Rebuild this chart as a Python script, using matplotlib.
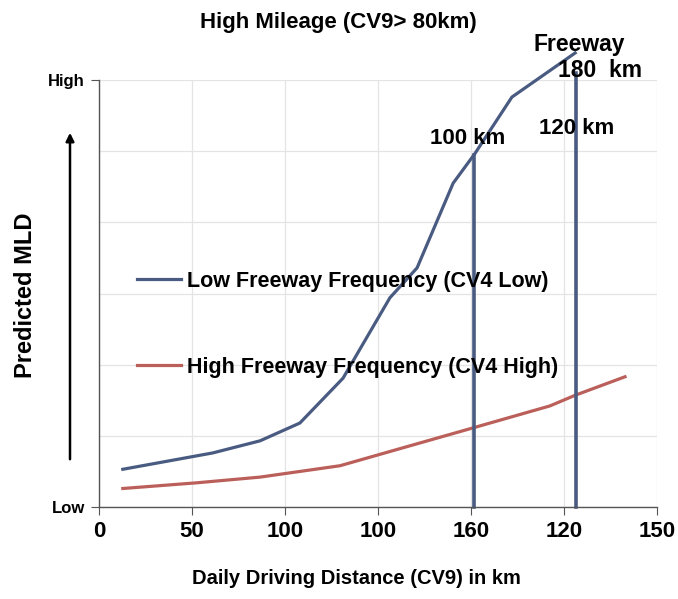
import matplotlib
matplotlib.use('Agg')
import matplotlib.pyplot as plt

plt.rcParams['font.family'] = ['Liberation Sans', 'DejaVu Sans']

# Data (x in axis units 0-150, y in 0-6 "Low".."High")
low_x = [6.4, 30.6, 43.3, 54.0, 65.6, 78.2, 85.5, 95.2, 101.1, 111.0, 128.0]
low_y = [0.53, 0.76, 0.93, 1.18, 1.81, 2.94, 3.36, 4.55, 4.97, 5.76, 6.38]
high_x = [6.4, 26.3, 43.3, 64.8, 80.9, 101.1, 121.2, 128.0, 141.4]
high_y = [0.26, 0.34, 0.42, 0.58, 0.82, 1.12, 1.42, 1.57, 1.83]
vline_x = [100.9, 128.1]
vline_top = [4.95, 6.10]
tick_pos = [0, 25, 50, 75, 100, 125, 150]
tick_labels = ['0', '50', '100', '100', '160', '120', '150']

blue = '#4a5b82'
red = '#bb5f5a'

fig = plt.figure(figsize=(6.78, 5.99), dpi=100)
ax = fig.add_axes([99 / 678, 1 - 507 / 599, 558 / 678, 427 / 599])

ax.plot(low_x, low_y, color=blue, lw=2.3, clip_on=False,
        label='Low Freeway Frequency (CV4 Low)')
ax.plot(high_x, high_y, color=red, lw=2.3, clip_on=False,
        label='High Freeway Frequency (CV4 High)')
for vx, vt in zip(vline_x, vline_top):
    ax.plot([vx, vx], [0, vt], color=blue, lw=2.6, clip_on=False)

ax.set_xlim(0, 150)
ax.set_ylim(0, 6)
ax.set_xticks(tick_pos)
ax.set_xticklabels(tick_labels, fontsize=16, fontweight='bold')
ax.set_yticks([0, 6])
ax.set_yticklabels(['Low', 'High'], fontsize=12, fontweight='bold')
ax.set_yticks([1, 2, 3, 4, 5], minor=True)
ax.tick_params(axis='y', which='minor', length=0)
ax.grid(True, which='both', color='#e4e4e4', lw=0.9)
ax.set_axisbelow(True)
ax.tick_params(axis='both', which='major', length=6, color='#555555', pad=4)
for s in ['top', 'right']:
    ax.spines[s].set_visible(False)
for s in ['left', 'bottom']:
    ax.spines[s].set_color('#555555')
    ax.spines[s].set_linewidth(1.0)

ax.legend(loc='upper left', bbox_to_anchor=(137 / 678, 1 - 271 / 599),
          bbox_transform=fig.transFigure, frameon=False, borderpad=0,
          borderaxespad=0, labelspacing=3.0, handlelength=2.05,
          handletextpad=0.28, prop={'size': 15.5, 'weight': 'bold'})

fig.text(0.4985, 0.963, 'High Mileage (CV9> 80km)', ha='center', va='center',
         fontsize=16, fontweight='bold')
fig.text(0.855, 0.925, 'Freeway', ha='center', va='center', fontsize=16.5,
         fontweight='bold')
fig.text(0.885, 0.883, '180  km', ha='center', va='center', fontsize=16.5,
         fontweight='bold')
fig.text(0.851, 0.786, '120 km', ha='center', va='center', fontsize=16,
         fontweight='bold')
fig.text(0.690, 0.768, '100 km', ha='center', va='center', fontsize=16,
         fontweight='bold')
fig.text(0.037, 0.507, 'Predicted MLD', rotation=90, ha='center', va='center',
         fontsize=17, fontweight='bold')
fig.text(0.525, 0.035, 'Daily Driving Distance (CV9) in km', ha='center',
         va='center', fontsize=14.5, fontweight='bold')

fig.add_artist(matplotlib.patches.FancyArrowPatch(
    (70 / 678, 1 - 462 / 599), (70 / 678, 1 - 130 / 599),
    transform=fig.transFigure, arrowstyle='-|>', mutation_scale=12,
    color='black', lw=1.8))

fig.savefig('out.png', dpi=100)
